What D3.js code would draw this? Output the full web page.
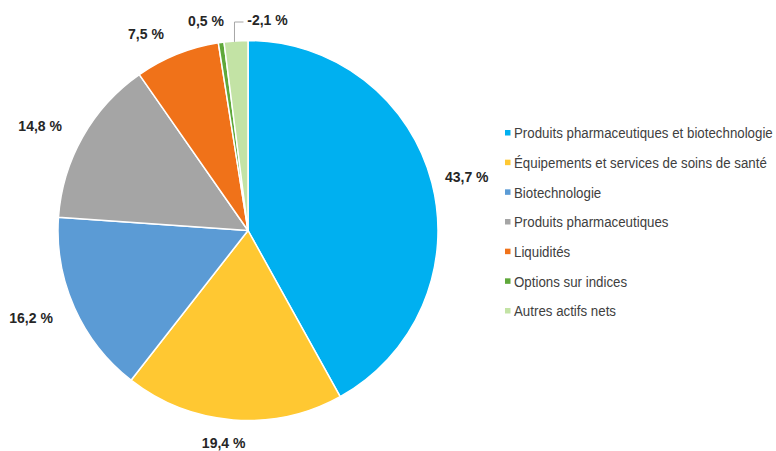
<!DOCTYPE html>
<html><head><meta charset="utf-8">
<script src="https://cdn.jsdelivr.net/npm/d3@7"></script>
<style>body{margin:0;background:#fff}svg{display:block}</style>
</head><body><svg id="c" width="776" height="451"></svg>
<script>
const categories = ["Produits pharmaceutiques et biotechnologie","Équipements et services de soins de santé","Biotechnologie","Produits pharmaceutiques","Liquidités","Options sur indices","Autres actifs nets"];
const values = [43.7, 19.4, 16.2, 14.8, 7.5, 0.5, -2.1];
const labels = ["43,7 %","19,4 %","16,2 %","14,8 %","7,5 %","0,5 %","-2,1 %"];
const colors = ["#00B0F0","#FFC832","#5B9BD5","#A5A5A5","#F07219","#5FA83A","#C3E3A5"];

const svg = d3.select("#c");
const cx = 248, cy = 230.5, r = 190;
const g = svg.append("g").attr("transform", `translate(${cx},${cy})`);
const data = categories.map((c,i)=>({c, v: values[i], l: labels[i], col: colors[i]}));
const pie = d3.pie().sort(null).value(d=>Math.abs(d.v));
const arcs = pie(data);
const arc = d3.arc().innerRadius(0).outerRadius(r);
g.selectAll("path").data(arcs).join("path")
  .attr("d", arc).attr("fill", d=>d.data.col)
  .attr("stroke","#fff").attr("stroke-width",1.5).attr("stroke-linejoin","round");

// label layout (Excel-like best fit)
const labelR = [226, 209, 232, 232, 225, 216, 0];
const tweak = [[0,3.5],[-8,4],[-5,-7],[-6,10],[-18,12],[-11.5,4],[0,0]];
arcs.forEach((a,i)=>{
  const mid = (a.startAngle + a.endAngle)/2;
  let x, y;
  if (i === arcs.length-1) {
    const ex = r*Math.sin(mid)-1.5, ey = -r*Math.cos(mid);
    const ly = -208.5;
    g.append("path").attr("d", `M${ex},${ey+1}L${ex},${ly}L${ex+9},${ly}`)
      .attr("fill","none").attr("stroke","#A6A6A6").attr("stroke-width",1);
    x = ex + 33; y = -211;
  } else {
    const lr = labelR[i];
    x = lr*Math.sin(mid) + tweak[i][0];
    y = -lr*Math.cos(mid) + tweak[i][1];
  }
  g.append("text").attr("x",x).attr("y",y).attr("text-anchor","middle")
    .attr("dominant-baseline","central")
    .attr("font-family","Liberation Sans, Arial, sans-serif").attr("font-weight","bold")
    .attr("font-size",14).attr("fill","#262626").text(a.data.l);
});

// legend
const leg = svg.append("g").attr("transform","translate(505,133)");
const ly = d3.scalePoint().domain(categories).range([0, 178]);
const rows = leg.selectAll("g").data(data).join("g").attr("transform", d=>`translate(0,${ly(d.c)})`);
rows.append("rect").attr("x",0).attr("y",-3).attr("width",5.5).attr("height",5.5).attr("fill",d=>d.col);
const txt = rows.append("g").attr("transform","translate(9,0)").append("text").attr("x",0).attr("y",0).attr("dominant-baseline","central")
  .attr("font-family","Liberation Sans, Arial, sans-serif")
  .attr("font-size",14.5).attr("fill","#404040").text(d=>d.c);
let maxW = 0; txt.each(function(){ maxW = Math.max(maxW, this.getComputedTextLength()); });
const sx = 259 / maxW;
rows.selectAll("g").attr("transform", `translate(9,0) scale(${sx},1)`);
</script></body></html>
